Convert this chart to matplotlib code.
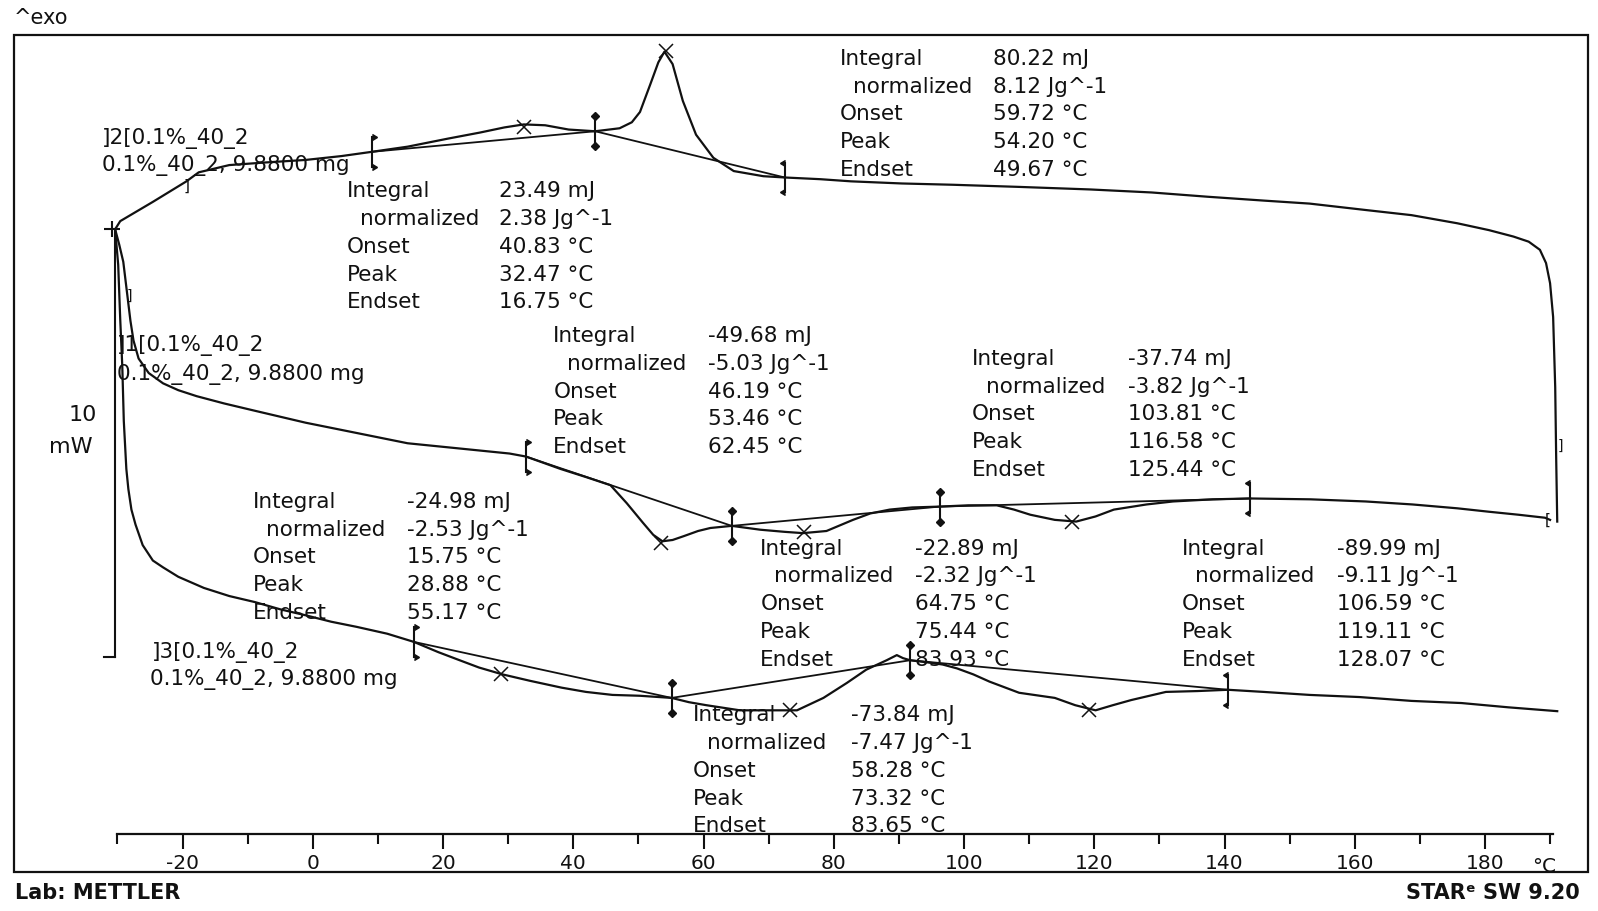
import matplotlib
matplotlib.use("Agg")
import matplotlib.pyplot as plt
from matplotlib.patches import Rectangle

plt.rcParams['font.family'] = ['DejaVu Sans']

# ---------------- data (temperature in °C, heat flow in mW, exo up) ----------------
# ]2 : cooling segment (top curve)
c2_T = [-30.36, -29.58, -24.57, -19.41, -17.53, -12.83, -7.36, -1.10, 4.38, 9.08,
        14.55, 20.81, 25.67, 29.42, 32.39, 35.68, 39.28, 43.35, 47.10, 48.98,
        50.23, 51.80, 53.05, 53.99, 55.24, 56.81, 58.84, 61.50, 64.63, 69.17,
        72.46, 77.93, 82.63, 90.45, 98.28, 108.45, 119.41, 128.79, 137.40, 146.01,
        153.05, 161.66, 168.70, 175.74, 180.59, 184.35, 186.70, 188.42, 189.36, 189.98,
        190.45, 190.77, 190.92, 191.08]
c2_mW = [10.00, 10.19, 10.64, 11.12, 11.33, 11.50, 11.56, 11.62, 11.71, 11.81,
         11.93, 12.12, 12.26, 12.38, 12.45, 12.43, 12.33, 12.29, 12.36, 12.50,
         12.74, 13.38, 13.90, 14.15, 13.86, 13.00, 12.21, 11.67, 11.36, 11.24,
         11.21, 11.17, 11.12, 11.07, 11.04, 10.99, 10.93, 10.86, 10.76, 10.67,
         10.60, 10.45, 10.33, 10.14, 9.98, 9.83, 9.71, 9.52, 9.21, 8.74,
         7.95, 6.31, 4.64, 3.17]

# ]1 : first heating (middle curve)
c1_T = [-30.36, -29.73, -29.11, -28.48, -28.01, -27.54, -26.76, -25.20, -23.00, -20.66,
        -17.84, -13.62, -8.92, -1.10, 6.73, 14.55, 22.38, 30.20, 32.71, 38.03,
        41.94, 45.70, 48.20, 50.70, 52.27, 53.68, 55.24, 56.96, 59.15, 61.03,
        64.32, 68.70, 72.46, 75.27, 78.87, 82.94, 85.60, 88.58, 92.02, 96.24,
        100.63, 105.01, 107.67, 110.17, 113.93, 117.21, 120.19, 123.00, 128.01, 132.08,
        138.18, 143.97, 153.21, 161.66, 168.86, 175.74, 180.59, 185.13, 189.20, 189.98]
c1_mW = [10.00, 9.64, 9.24, 8.45, 7.86, 7.40, 6.98, 6.64, 6.40, 6.24,
         6.10, 5.93, 5.76, 5.48, 5.24, 5.00, 4.88, 4.76, 4.69, 4.40,
         4.21, 4.02, 3.60, 3.14, 2.86, 2.71, 2.74, 2.83, 2.95, 3.02,
         3.07, 2.98, 2.93, 2.90, 2.95, 3.21, 3.36, 3.45, 3.50, 3.52,
         3.55, 3.55, 3.45, 3.33, 3.21, 3.17, 3.29, 3.45, 3.57, 3.64,
         3.69, 3.71, 3.69, 3.64, 3.57, 3.48, 3.40, 3.33, 3.26, 3.21]

# ]3 : second heating (bottom curve)
c3_T = [-30.36, -29.89, -29.58, -29.26, -29.03, -28.64, -28.33, -27.86, -27.23, -26.13,
        -24.57, -23.00, -20.66, -16.74, -12.83, -8.92, -5.01, -1.10, 2.82, 6.73,
        11.42, 15.49, 19.25, 22.54, 25.51, 29.11, 33.33, 38.18, 41.94, 46.01,
        50.23, 55.09, 57.75, 60.41, 65.57, 70.11, 74.34, 78.40, 82.00, 84.98,
        88.11, 89.67, 90.61, 91.71, 94.37, 96.71, 98.90, 101.41, 103.91, 108.45,
        113.93, 117.06, 120.19, 122.85, 125.67, 130.99, 135.84, 140.53, 146.01, 153.05,
        160.72, 168.70, 176.37, 183.57, 191.08]
c3_mW = [10.00, 9.17, 7.90, 6.79, 5.52, 4.40, 3.93, 3.45, 3.10, 2.62,
         2.26, 2.10, 1.88, 1.62, 1.43, 1.29, 1.12, 0.98, 0.83, 0.71,
         0.55, 0.36, 0.12, -0.07, -0.24, -0.40, -0.55, -0.71, -0.81, -0.88,
         -0.90, -0.95, -1.05, -1.12, -1.24, -1.24, -1.24, -0.95, -0.60, -0.29,
         -0.07, 0.05, -0.02, -0.07, -0.12, -0.17, -0.26, -0.40, -0.57, -0.83,
         -0.95, -1.12, -1.24, -1.12, -1.00, -0.81, -0.79, -0.76, -0.81, -0.88,
         -0.93, -1.02, -1.07, -1.17, -1.26]

# peak positions (x markers)
p2_T = [32.47, 54.20]
p2_mW = [12.38, 14.17]
p1_T = [53.46, 75.44, 116.58]
p1_mW = [2.67, 2.93, 3.17]
p3_T = [28.88, 73.32, 119.11]
p3_mW = [-0.38, -1.24, -1.24]

# integration limits (baselines join consecutive limits of one curve)
lim2_T = [9.08, 43.35, 72.46]
lim2_mW = [11.81, 12.29, 11.21]
lim1_T = [32.71, 64.32, 96.24, 143.97]
lim1_mW = [4.69, 3.07, 3.52, 3.71]
lim3_T = [15.49, 55.09, 91.71, 140.53]
lim3_mW = [0.36, -0.95, -0.07, -0.76]

# evaluation tables
row_labels = ["Integral", "normalized", "Onset", "Peak", "Endset"]
evalA = ["80.22 mJ", "8.12 Jg^-1", "59.72 °C", "54.20 °C", "49.67 °C"]
evalB = ["23.49 mJ", "2.38 Jg^-1", "40.83 °C", "32.47 °C", "16.75 °C"]
evalC = ["-49.68 mJ", "-5.03 Jg^-1", "46.19 °C", "53.46 °C", "62.45 °C"]
evalD = ["-37.74 mJ", "-3.82 Jg^-1", "103.81 °C", "116.58 °C", "125.44 °C"]
evalE = ["-24.98 mJ", "-2.53 Jg^-1", "15.75 °C", "28.88 °C", "55.17 °C"]
evalF = ["-22.89 mJ", "-2.32 Jg^-1", "64.75 °C", "75.44 °C", "83.93 °C"]
evalG = ["-89.99 mJ", "-9.11 Jg^-1", "106.59 °C", "119.11 °C", "128.07 °C"]
evalH = ["-73.84 mJ", "-7.47 Jg^-1", "58.28 °C", "73.32 °C", "83.65 °C"]

curve_names = ["]2[0.1%_40_2", "]1[0.1%_40_2", "]3[0.1%_40_2"]
sample_line = "0.1%_40_2, 9.8800 mg"

major_ticks = [-20, 0, 20, 40, 60, 80, 100, 120, 140, 160, 180]
minor_ticks = [-30, -10, 10, 30, 50, 70, 90, 110, 130, 150, 170, 190]

# ---------------- figure ----------------
INK = "#111111"
fig = plt.figure(figsize=(15.98, 9.11), dpi=100)
ax = fig.add_axes([0, 0, 1, 1])
ax.set_xlim(-48.04, 197.34)
ax.set_ylim(-5.929, 15.357)
ax.set_facecolor("white")

# temperature axis
for s in ["left", "top", "right"]:
    ax.spines[s].set_visible(False)
ax.spines["bottom"].set_position(("data", -4.119))
ax.spines["bottom"].set_bounds(-30, 190.5)
ax.spines["bottom"].set_linewidth(1.6)
ax.spines["bottom"].set_color(INK)
ax.set_yticks([])
ax.set_xticks(major_ticks)
ax.set_xticklabels([str(t) for t in major_ticks])
ax.set_xticks(minor_ticks, minor=True)
ax.tick_params(axis="x", which="major", direction="out", length=11, width=1.5,
               colors=INK, labelsize=14.5, pad=4)
ax.tick_params(axis="x", which="minor", direction="out", length=7, width=1.5, colors=INK)
ax.text(189.0, -4.119 - 0.72, "°C", ha="center", va="center_baseline", fontsize=14.5,
        color=INK)

# frame
ax.add_patch(Rectangle((0.00895, 0.0428), 0.9848, 0.9192, transform=ax.transAxes,
                       fill=False, lw=1.6, ec=INK, clip_on=False))

# curves
lw = 1.6
ax.plot(c2_T, c2_mW, color=INK, lw=lw)
ax.plot(c1_T, c1_mW, color=INK, lw=lw)
ax.plot(c3_T, c3_mW, color=INK, lw=lw)

# baselines + limit markers
h = 0.35
for LT, LM in [(lim2_T, lim2_mW), (lim1_T, lim1_mW), (lim3_T, lim3_mW)]:
    ax.plot(LT, LM, color=INK, lw=1.3)
    n = len(LT)
    for i, (t, m) in enumerate(zip(LT, LM)):
        ax.plot([t, t], [m - h, m + h], color=INK, lw=1.5)
        if i == 0:
            mk = 9
        elif i == n - 1:
            mk = 8
        else:
            mk = "D"
        ax.plot([t, t], [m - h, m + h], ls="none", marker=mk, ms=4.5, color=INK)

# peak markers
for PT, PM in [(p2_T, p2_mW), (p1_T, p1_mW), (p3_T, p3_mW)]:
    ax.plot(PT, PM, ls="none", marker="x", ms=10, mew=1.1, color=INK)

# scale bar 10 mW
ax.plot([-30.4, -30.4], [0, 10], color=INK, lw=1.5)
ax.plot([-32.1, -30.4], [0, 0], color=INK, lw=1.5)
ax.plot([-30.8], [10.0], marker="+", ms=12, mew=1.5, color=INK)
ax.text(-35.4, 5.71, "10", ha="center", va="center_baseline", fontsize=16, color=INK)
ax.text(-37.2, 4.95, "mW", ha="center", va="center_baseline", fontsize=16, color=INK)

# segment markers
ax.text(-19.4, 11.0, "]", ha="center", va="center", fontsize=11, color=INK)
ax.text(-28.1, 8.45, "]", ha="center", va="center", fontsize=10, color=INK)
ax.text(189.6, 3.21, "[", ha="center", va="center", fontsize=11, color=INK)
ax.text(191.6, 4.95, "]", ha="center", va="center", fontsize=10, color=INK)

# curve labels
fs_lab = 15.5
ax.text(-32.39, 12.17, curve_names[0], ha="left", va="center_baseline", fontsize=fs_lab, color=INK)
ax.text(-32.39, 11.54, sample_line, ha="left", va="center_baseline", fontsize=fs_lab, color=INK)
ax.text(-30.05, 7.34, curve_names[1], ha="left", va="center_baseline", fontsize=fs_lab, color=INK)
ax.text(-30.05, 6.67, sample_line, ha="left", va="center_baseline", fontsize=fs_lab, color=INK)
ax.text(-24.73, 0.17, curve_names[2], ha="left", va="center_baseline", fontsize=fs_lab, color=INK)
ax.text(-24.95, -0.45, sample_line, ha="left", va="center_baseline", fontsize=fs_lab, color=INK)

# evaluation tables: (values, label-column T, value-column T, first-row mW)
blocks = [(evalA, 80.91, 104.38, 14.03),
          (evalB, 5.16, 28.64, 10.93),
          (evalC, 36.93, 60.72, 7.55),
          (evalD, 101.22, 125.20, 7.02),
          (evalE, -9.23, 14.48, 3.676),
          (evalF, 68.70, 92.49, 2.586),
          (evalG, 133.41, 157.28, 2.586),
          (evalH, 58.37, 82.63, -1.31)]
fs_ev = 15.5
dy = 0.648
for vals, xl, xv, y0 in blocks:
    for k, (lab, v) in enumerate(zip(row_labels, vals)):
        yy = y0 - k * dy
        xx = xl + (2.1 if lab == "normalized" else 0)
        ax.text(xx, yy, lab, ha="left", va="center_baseline", fontsize=fs_ev, color=INK)
        ax.text(xv, yy, v, ha="left", va="center_baseline", fontsize=fs_ev, color=INK)

# header / footer
fig.text(14 / 1598, 1 - 18.5 / 911, "^exo", ha="left", va="center", fontsize=15, color=INK)
fig.text(15 / 1598, 1 - 893 / 911, "Lab: METTLER", ha="left", va="center", fontsize=15,
         fontweight="bold", color=INK)
fig.text(1580 / 1598, 1 - 893 / 911, "STARᵉ SW 9.20", ha="right", va="center", fontsize=15,
         fontweight="bold", color=INK)

fig.savefig("out.png", dpi=100, facecolor="white")
